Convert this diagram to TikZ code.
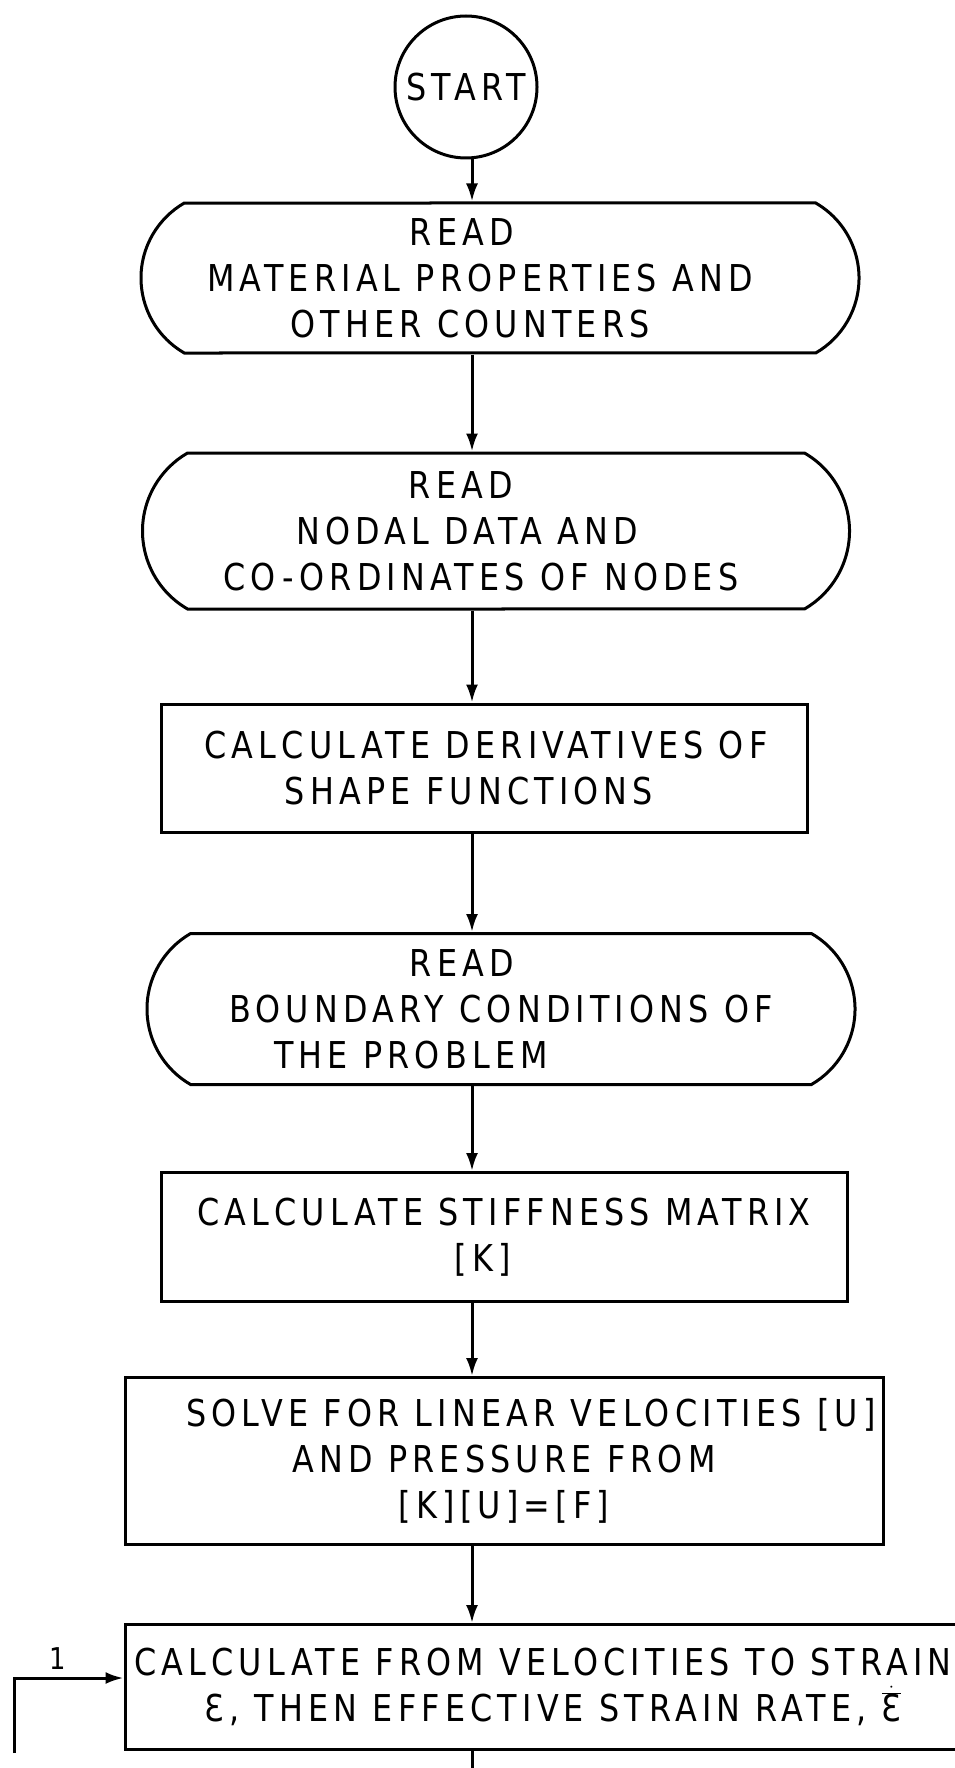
\documentclass[tikz,border=0pt]{standalone}
\usepackage{fontspec}
\setmainfont{DejaVu Sans}[FakeStretch=0.86,LetterSpace=14]
\usetikzlibrary{arrows.meta,shapes.misc}

\tikzset{
  line/.style={line width=3pt},
  flow/.style={line, -{Latex[length=18pt,width=12pt]}},
  term/.style={line, draw, rounded rectangle, rounded rectangle arc length=120,
    align=center, inner sep=0pt},
  proc/.style={line, draw, rectangle, align=center, inner sep=0pt},
}
% moves one line of a centred node text sideways by #1
\newcommand{\nudge}[2]{\hspace*{#1}\hspace*{#1}#2}
% effective strain rate symbol
\newcommand{\epsrate}{\ensuremath{\dot{\overline{\mbox{Ɛ}}}}}

\begin{document}
\begin{tikzpicture}[x=1pt, y=-1pt, font=\fontsize{37}{46}\selectfont]
  \useasboundingbox (0,0) rectangle (954,1768);
  \coordinate (col) at (472,0);

  \node[line, draw, circle, minimum size=142pt, inner sep=0pt] (start) at (466,87) {START};

  \node[term, minimum width=718pt, minimum height=150pt] (read1) at (500,278)
    {\nudge{-38pt}{READ}\\ \nudge{-20pt}{MATERIAL PROPERTIES AND}\\ \nudge{-30pt}{OTHER COUNTERS}};
  \node[term, minimum width=707pt, minimum height=156pt] (read2) at (496,531)
    {\nudge{-35pt}{READ}\\ \nudge{-29pt}{NODAL DATA AND}\\ \nudge{-15pt}{CO-ORDINATES OF NODES}};
  \node[proc, minimum width=646pt, minimum height=128pt] (deriv) at (484,768)
    {\nudge{2pt}{CALCULATE DERIVATIVES OF}\\ \nudge{-15pt}{SHAPE FUNCTIONS}};
  \node[term, minimum width=708pt, minimum height=151pt] (bound) at (501,1009)
    {\nudge{-39pt}{READ}\\ BOUNDARY CONDITIONS OF\\ \nudge{-90pt}{THE PROBLEM}};
  \node[proc, minimum width=686pt, minimum height=129pt] (stiff) at (504,1237)
    {CALCULATE STIFFNESS MATRIX\\ \nudge{-21pt}{[K]}};
  \node[proc, minimum width=758pt, minimum height=167pt] (solve) at (504,1461)
    {\nudge{27pt}{SOLVE FOR LINEAR VELOCITIES [U]}\\ AND PRESSURE FROM\\ {[K][U]=[F]}};
  \node[proc, minimum width=846pt, minimum height=125pt] (strain) at (548,1687)
    {\nudge{-5pt}{CALCULATE FROM VELOCITIES TO STRAIN}\\
     \nudge{5pt}{Ɛ, THEN EFFECTIVE STRAIN RATE, \epsrate}};

  % main chain
  \draw[flow] (start.south -| col) -- (col |- read1.north);
  \draw[flow] (read1.south -| col) -- (col |- read2.north);
  \draw[flow] (read2.south -| col) -- (col |- deriv.north);
  \draw[flow] (deriv.south -| col) -- (col |- bound.north);
  \draw[flow] (bound.south -| col) -- (col |- stiff.north);
  \draw[flow] (stiff.south -| col) -- (col |- solve.north);
  \draw[flow] (solve.south -| col) -- (col |- strain.north);

  % return loop and exit
  \coordinate (loop) at (14,1753);
  \coordinate (exit) at (472,1768);
  \draw[flow] (loop) |- ([yshift=9pt]strain.west)
    node[pos=0.7, above=4pt, font=\fontsize{30}{32}\selectfont] (one) {1};
  \draw[line] (strain.south -| col) -- (exit);
\end{tikzpicture}
\end{document}
